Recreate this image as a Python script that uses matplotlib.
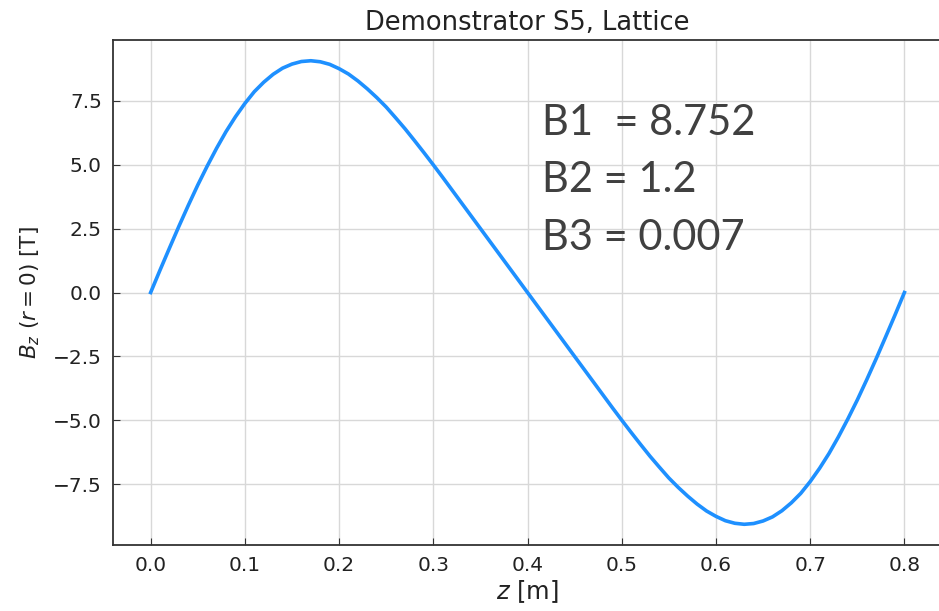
import matplotlib.pyplot as plt

# field along the lattice, every 1 cm
z = [0.00, 0.01, 0.02, 0.03, 0.04, 0.05, 0.06, 0.07, 0.08, 0.09,
     0.10, 0.11, 0.12, 0.13, 0.14, 0.15, 0.16, 0.17, 0.18, 0.19,
     0.20, 0.21, 0.22, 0.23, 0.24, 0.25, 0.26, 0.27, 0.28, 0.29,
     0.30, 0.31, 0.32, 0.33, 0.34, 0.35, 0.36, 0.37, 0.38, 0.39,
     0.40, 0.41, 0.42, 0.43, 0.44, 0.45, 0.46, 0.47, 0.48, 0.49,
     0.50, 0.51, 0.52, 0.53, 0.54, 0.55, 0.56, 0.57, 0.58, 0.59,
     0.60, 0.61, 0.62, 0.63, 0.64, 0.65, 0.66, 0.67, 0.68, 0.69,
     0.70, 0.71, 0.72, 0.73, 0.74, 0.75, 0.76, 0.77, 0.78, 0.79, 0.80]
bz = [0.00, 0.88, 1.74, 2.59, 3.41, 4.20, 4.94, 5.64, 6.29, 6.87,
      7.39, 7.85, 8.22, 8.53, 8.77, 8.93, 9.03, 9.06, 9.02, 8.92,
      8.75, 8.54, 8.27, 7.96, 7.62, 7.25, 6.83, 6.40, 5.94, 5.47,
      4.99, 4.50, 4.00, 3.50, 3.00, 2.50, 2.00, 1.50, 1.00, 0.50,
      0.00, -0.50, -1.00, -1.50, -2.00, -2.50, -3.00, -3.50, -4.00, -4.50,
      -4.99, -5.47, -5.94, -6.40, -6.83, -7.25, -7.62, -7.96, -8.27, -8.54,
      -8.75, -8.92, -9.02, -9.06, -9.03, -8.93, -8.77, -8.53, -8.22, -7.85,
      -7.39, -6.87, -6.29, -5.64, -4.94, -4.20, -3.41, -2.59, -1.74, -0.88, 0.00]

xticks = [0.0, 0.1, 0.2, 0.3, 0.4, 0.5, 0.6, 0.7, 0.8]
yticks = [-7.5, -5.0, -2.5, 0.0, 2.5, 5.0, 7.5]
harmonics = ['B1  = 8.752', 'B2 = 1.2', 'B3 = 0.007']

fig = plt.figure(figsize=(9.39, 6.11), dpi=100)
ax = fig.add_axes([0.1203, 0.108, 0.883, 0.8265])

ax.plot(z, bz, color='#1E90FF', lw=2.6)

ax.set_xlim(-0.04, 0.84)
ax.set_ylim(-9.87, 9.87)
ax.set_xticks(xticks)
ax.set_yticks(yticks)
ax.grid(True, color='#d8d8d8', lw=1)
ax.tick_params(direction='in', length=5, labelsize=14.5, colors='#333333',
               labelcolor='#222222', pad=8)
for s in ['left', 'bottom', 'top']:
    ax.spines[s].set_color('#333333')
    ax.spines[s].set_linewidth(1.3)
ax.spines['right'].set_visible(False)

ax.set_title('Demonstrator S5, Lattice', fontsize=18.5, color='#222222', pad=7)
ax.set_xlabel('$z$ [m]', fontsize=17.5, color='#222222', labelpad=2)
ax.set_ylabel('$B_z$ $(r = 0)$ [T]', fontsize=15.5, color='#222222', labelpad=8)

for i, t in enumerate(harmonics):
    fig.text(542 / 939, 1 - (135 + 57.5 * i) / 611, t, fontsize=30,
             family='Lato', color='#404040', va='baseline')

fig.savefig('out.png', dpi=100)
